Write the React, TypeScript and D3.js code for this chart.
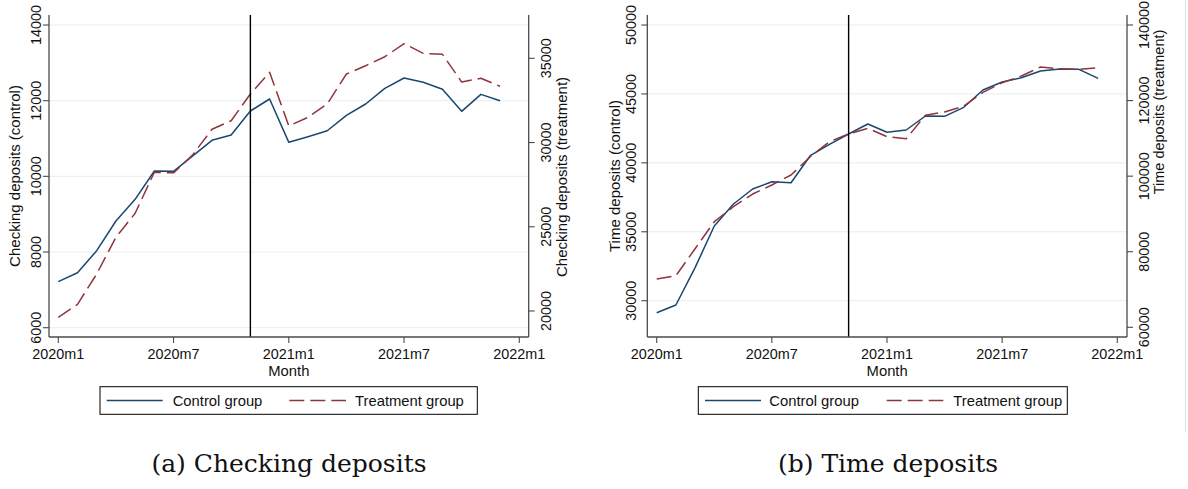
import React from "react";
import * as d3 from "d3";

// Monthly observations, 2020m1 .. 2021m12
const monthIndex = d3.range(24);
const tickMonths = [0, 6, 12, 18, 24];
const tickLabels = ["2020m1", "2020m7", "2021m1", "2021m7", "2022m1"];
const policyMonth = 10; // 2020m11

const checkingControl = [
  7216, 7453, 8035, 8820, 9393, 10141, 10133, 10540, 10952, 11093, 11727, 12044,
  10899, 11047, 11206, 11613, 11912, 12327, 12600, 12486, 12301, 11718, 12167, 12000,
];
const checkingTreatment = [
  19626, 20398, 22200, 24375, 25799, 28233, 28200, 29278, 30785, 31296, 32881, 34169,
  30981, 31497, 32287, 34068, 34561, 35095, 35866, 35296, 35237, 33593, 33813, 33338,
];
const checkingControlTicks = [6000, 8000, 10000, 12000, 14000];
const checkingTreatmentTicks = [20000, 25000, 30000, 35000];

const timeControl = [
  29130, 29688, 32400, 35419, 37015, 38103, 38633, 38560, 40519, 41346, 42093, 42818,
  42216, 42383, 43399, 43376, 44029, 45285, 45865, 46177, 46663, 46808, 46785, 46133,
];
const timeTreatment = [
  72782, 73655, 80800, 87946, 91915, 95276, 97658, 100304, 105150, 109120, 111154, 112662,
  110440, 109910, 116100, 116975, 118563, 122190, 124730, 126503, 128884, 128434, 128258, 128700,
];
const timeControlTicks = [30000, 35000, 40000, 45000, 50000];
const timeTreatmentTicks = [60000, 80000, 100000, 120000, 140000];

const legendLabels = ["Control group", "Treatment group"];

const NAVY = "#1a476f";
const MAROON = "#90353b";
const GRID = "#e4eef1";
const AXIS = "#4a4a4a";
const SANS = "'Liberation Sans', Arial, Helvetica, sans-serif";
const SERIF = "'DejaVu Serif', serif";

type PanelCfg = {
  control: number[];
  treatment: number[];
  leftTicks: number[];
  rightTicks: number[];
  leftTitle: string;
  rightTitle: string;
  caption: string;
  plot: { left: number; right: number; top: number; bottom: number };
  xRange: [number, number];
  leftDomain: [number, number];
  leftRange: [number, number];
  rightDomain: [number, number];
  rightRange: [number, number];
  leftLabelX: number;
  leftTitleX: number;
  leftTitleY: number;
  rightLabelX: number;
  rightTitleX: number;
  rightTitleY: number;
  titleSize: number;
  rightTitleSize: number;
  legend: { x0: number; x1: number; y0: number; y1: number; c0: number; c1: number; ct: number; t0: number; t1: number; tt: number };
  captionX: number;
};

function Panel({ cfg }: { cfg: PanelCfg }) {
  const { plot } = cfg;
  const x = d3.scaleLinear().domain([0, 24]).range(cfg.xRange);
  const yL = d3.scaleLinear().domain(cfg.leftDomain).range(cfg.leftRange);
  const yR = d3.scaleLinear().domain(cfg.rightDomain).range(cfg.rightRange);
  const lineL = d3
    .line<number>()
    .x((_, i) => x(monthIndex[i]))
    .y((d) => yL(d));
  const lineR = d3
    .line<number>()
    .x((_, i) => x(monthIndex[i]))
    .y((d) => yR(d));
  const midY = (plot.top + plot.bottom) / 2;
  const midX = (plot.left + plot.right) / 2;
  const lg = cfg.legend;
  const lgMid = (lg.y0 + lg.y1) / 2;

  return (
    <g>
      {/* gridlines at the control-axis ticks */}
      {cfg.leftTicks.map((t) => (
        <line key={"g" + t} x1={plot.left} x2={plot.right} y1={yL(t)} y2={yL(t)} stroke={GRID} strokeWidth={1} />
      ))}

      {/* series */}
      <path d={lineL(cfg.control) || ""} fill="none" stroke={NAVY} strokeWidth={1.5} strokeLinejoin="round" />
      <path
        d={lineR(cfg.treatment) || ""}
        fill="none"
        stroke={MAROON}
        strokeWidth={1.5}
        strokeDasharray="15,6"
        strokeLinejoin="round"
      />

      {/* policy month */}
      <line x1={x(policyMonth)} x2={x(policyMonth)} y1={plot.top} y2={plot.bottom} stroke="#000" strokeWidth={1.4} />

      {/* axes */}
      <line x1={plot.left} x2={plot.left} y1={plot.top} y2={plot.bottom} stroke={AXIS} strokeWidth={1.3} />
      <line x1={plot.right} x2={plot.right} y1={plot.top} y2={plot.bottom} stroke={AXIS} strokeWidth={1.3} />
      <line x1={plot.left} x2={plot.right} y1={plot.bottom} y2={plot.bottom} stroke={AXIS} strokeWidth={1.3} />

      {/* left axis ticks & labels */}
      {cfg.leftTicks.map((t) => (
        <g key={"l" + t}>
          <line x1={plot.left - 6} x2={plot.left} y1={yL(t)} y2={yL(t)} stroke={AXIS} strokeWidth={1.1} />
          <text
            transform={`translate(${cfg.leftLabelX},${yL(t)}) rotate(-90)`}
            textAnchor="middle"
            fontFamily={SANS}
            fontSize={14.4}
            fill="#111"
          >
            {t}
          </text>
        </g>
      ))}

      {/* right axis ticks & labels */}
      {cfg.rightTicks.map((t) => (
        <g key={"r" + t}>
          <line x1={plot.right} x2={plot.right + 6} y1={yR(t)} y2={yR(t)} stroke={AXIS} strokeWidth={1.1} />
          <text
            transform={`translate(${cfg.rightLabelX},${yR(t)}) rotate(-90)`}
            textAnchor="middle"
            fontFamily={SANS}
            fontSize={14.4}
            fill="#111"
          >
            {t}
          </text>
        </g>
      ))}

      {/* x axis ticks & labels */}
      {tickMonths.map((m, i) => (
        <g key={"x" + m}>
          <line x1={x(m)} x2={x(m)} y1={plot.bottom} y2={plot.bottom + 6} stroke={AXIS} strokeWidth={1.1} />
          <text x={x(m)} y={358.5} textAnchor="middle" fontFamily={SANS} fontSize={14.4} fill="#111">
            {tickLabels[i]}
          </text>
        </g>
      ))}

      {/* axis titles */}
      <text
        transform={`translate(${cfg.leftTitleX},${cfg.leftTitleY}) rotate(-90)`}
        textAnchor="middle"
        fontFamily={SANS}
        fontSize={cfg.titleSize}
        fill="#111"
      >
        {cfg.leftTitle}
      </text>
      <text
        transform={`translate(${cfg.rightTitleX},${cfg.rightTitleY}) rotate(-90)`}
        textAnchor="middle"
        fontFamily={SANS}
        fontSize={cfg.rightTitleSize}
        fill="#111"
      >
        {cfg.rightTitle}
      </text>
      <text x={midX} y={375.5} textAnchor="middle" fontFamily={SANS} fontSize={14.8} fill="#111">
        Month
      </text>

      {/* legend */}
      <rect x={lg.x0} y={lg.y0} width={lg.x1 - lg.x0} height={lg.y1 - lg.y0} fill="#fff" stroke="#000" strokeWidth={1} />
      <line x1={lg.c0} x2={lg.c1} y1={lgMid} y2={lgMid} stroke={NAVY} strokeWidth={1.5} />
      <text x={lg.ct} y={lgMid + 5.3} fontFamily={SANS} fontSize={14.8} fill="#111">
        {legendLabels[0]}
      </text>
      <line x1={lg.t0} x2={lg.t1} y1={lgMid} y2={lgMid} stroke={MAROON} strokeWidth={1.5} strokeDasharray="15,6" />
      <text x={lg.tt} y={lgMid + 5.3} fontFamily={SANS} fontSize={14.8} fill="#111">
        {legendLabels[1]}
      </text>

      {/* caption */}
      <text x={cfg.captionX} y={471.5} textAnchor="middle" fontFamily={SERIF} fontSize={25} fill="#111">
        {cfg.caption}
      </text>
    </g>
  );
}

const checkingPanel: PanelCfg = {
  control: checkingControl,
  treatment: checkingTreatment,
  leftTicks: checkingControlTicks,
  rightTicks: checkingTreatmentTicks,
  leftTitle: "Checking deposits (control)",
  rightTitle: "Checking deposits (treatment)",
  caption: "(a) Checking deposits",
  plot: { left: 49, right: 528.7, top: 15, bottom: 337 },
  xRange: [58.3, 519.3],
  leftDomain: [6000, 14000],
  leftRange: [327.7, 25],
  rightDomain: [20000, 35000],
  rightRange: [311, 58.3],
  leftLabelX: 40.5,
  leftTitleX: 20,
  leftTitleY: 176,
  rightLabelX: 550.5,
  rightTitleX: 567,
  rightTitleY: 177,
  titleSize: 15,
  rightTitleSize: 15,
  legend: { x0: 100, x1: 477.3, y0: 386.7, y1: 414.3, c0: 106.7, c1: 162.7, ct: 172.7, t0: 289.3, t1: 346, tt: 355 },
  captionX: 289,
};

const timePanel: PanelCfg = {
  control: timeControl,
  treatment: timeTreatment,
  leftTicks: timeControlTicks,
  rightTicks: timeTreatmentTicks,
  leftTitle: "Time deposits (control)",
  rightTitle: "Time deposits (treatment)",
  caption: "(b) Time deposits",
  plot: { left: 647.3, right: 1127, top: 15, bottom: 337 },
  xRange: [656.7, 1117.3],
  leftDomain: [30000, 50000],
  leftRange: [300.7, 25],
  rightDomain: [60000, 140000],
  rightRange: [327.3, 25],
  leftLabelX: 636,
  leftTitleX: 619.5,
  leftTitleY: 176,
  rightLabelX: 1148.5,
  rightTitleX: 1164,
  rightTitleY: 112,
  titleSize: 15,
  rightTitleSize: 14.5,
  legend: { x0: 698.3, x1: 1067.3, y0: 386.7, y1: 414.3, c0: 705, c1: 761, ct: 769.3, t0: 886.7, t1: 943.3, tt: 953.3 },
  captionX: 888,
};

export default function App() {
  return (
    <svg
      width={1188}
      height={489}
      viewBox="0 0 1188 489"
      style={{ position: "absolute", left: 0, top: 0, background: "#fff" }}
    >
      <rect x={0} y={0} width={1188} height={489} fill="#fff" />
      <Panel cfg={checkingPanel} />
      <Panel cfg={timePanel} />
      <line x1={1185.5} x2={1185.5} y1={0} y2={432} stroke="#e6e6e6" strokeWidth={1} />
    </svg>
  );
}
